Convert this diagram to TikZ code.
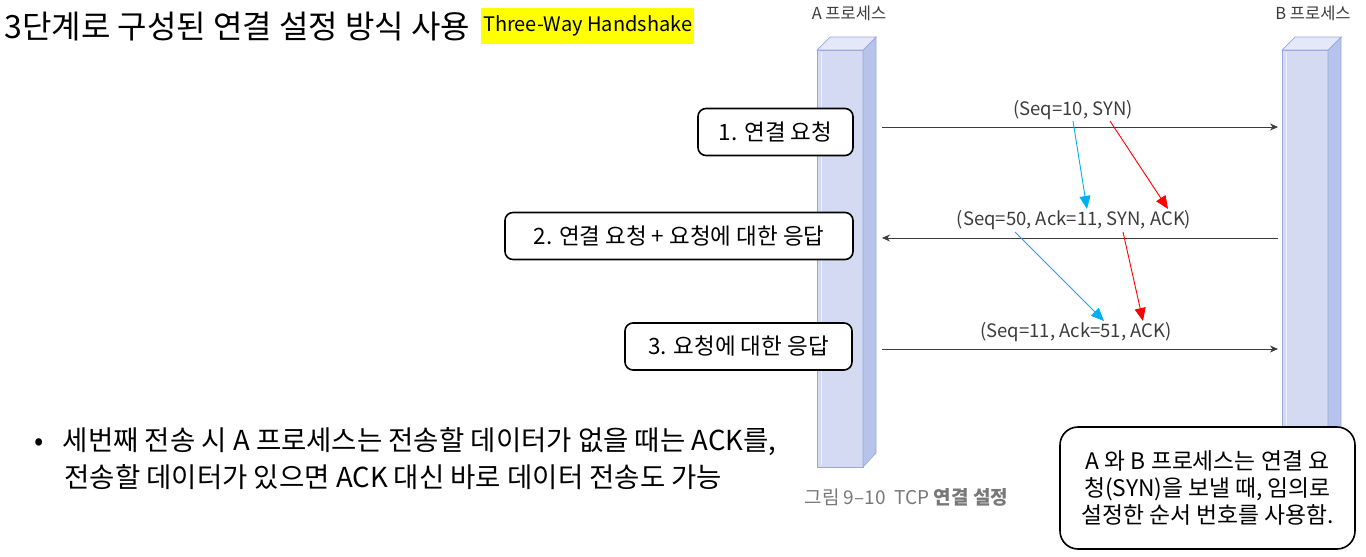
\documentclass[tikz,border=0pt]{standalone}
\usepackage{fontspec}
\setmainfont{Noto Sans CJK KR}
\usetikzlibrary{positioning,arrows.meta}
\definecolor{barfront}{RGB}{212,218,241}
\definecolor{barside}{RGB}{182,196,236}
\definecolor{bartop}{RGB}{228,232,248}
\definecolor{baredge}{RGB}{150,168,222}
\definecolor{skyarrow}{RGB}{0,176,240}
\definecolor{msggray}{RGB}{60,60,60}
\definecolor{capgray}{RGB}{120,120,120}
\definecolor{markyellow}{RGB}{255,255,0}

\begin{document}
\begin{tikzpicture}[x=1pt, y=-1pt,
  stepbox/.style={draw=black, line width=1.6pt, rounded corners=8pt,
    fill=white, minimum height=47pt, inner sep=0pt,
    font=\fontsize{22.5}{26}\selectfont},
  msg/.style={-{Stealth[length=8pt, width=7pt]}, msggray, line width=0.8pt},
  msglabel/.style={font=\fontsize{18.5}{20}\selectfont, text=msggray},
  proclabel/.style={font=\fontsize{16.5}{18}\selectfont, text=msggray},
  cyanarr/.style={-{Triangle[length=13pt, width=11pt]}, skyarrow, line width=0.9pt},
  redarr/.style={-{Triangle[length=13pt, width=11pt]}, red, line width=0.9pt},
]
  \useasboundingbox (0,0) rectangle (1366,557);

  % === TITLE ===
  \node[anchor=west, font=\fontsize{32}{36}\selectfont] (title) at (1,27)
    {3단계로 구성된 연결 설정 방식 사용};
  \node[anchor=west, fill=markyellow, minimum height=36pt, inner xsep=2pt,
    font=\fontsize{20}{22}\selectfont] (hs) at (481,26) {Three-Way Handshake};

  % === PROCESS BARS ===
  \foreach \bx in {817, 1282} {
    \filldraw[fill=barfront, draw=baredge, line width=0.7pt]
      (\bx,50) rectangle (\bx+46,467);
    \filldraw[fill=barside, draw=baredge, line width=0.7pt]
      (\bx+46,50) -- (\bx+59,37) -- (\bx+59,453) -- (\bx+46,467) -- cycle;
    \filldraw[fill=bartop, draw=baredge, line width=0.7pt]
      (\bx,50) -- (\bx+13,37) -- (\bx+59,37) -- (\bx+46,50) -- cycle;
    \draw[white, line width=1pt, opacity=0.6] (\bx+4,52) -- (\bx+4,465);
  }
  \node[proclabel] (procA) at (849,13) {A 프로세스};
  \node[proclabel] (procB) at (1313,13) {B 프로세스};

  % === MESSAGES ===
  \coordinate (a1) at (882,127);  \coordinate (b1) at (1278,127);
  \coordinate (a2) at (882,238);  \coordinate (b2) at (1278,238);
  \coordinate (a3) at (882,349);  \coordinate (b3) at (1278,349);
  \draw[msg] (a1) -- (b1);
  \draw[msg] (b2) -- (a2);
  \draw[msg] (a3) -- (b3);
  \node[msglabel] (lab1) at (1073,110) {(Seq=10, SYN)};
  \node[msglabel] (lab2) at (1074,220) {(Seq=50, Ack=11, SYN, ACK)};
  \node[msglabel] (lab3) at (1076,332) {(Seq=11, Ack=51, ACK)};

  % Numbers carried over (blue: seq -> ack, red: ack -> seq)
  \coordinate (c1s) at (1073,121);  \coordinate (c1e) at (1087,209);
  \coordinate (r1s) at (1110,121);  \coordinate (r1e) at (1168,209);
  \coordinate (c2s) at (1015,232);  \coordinate (c2e) at (1104,321);
  \coordinate (r2s) at (1123,232);  \coordinate (r2e) at (1143,321);
  \draw[cyanarr] (c1s) -- (c1e);
  \draw[redarr] (r1s) -- (r1e);
  \draw[cyanarr] (c2s) -- (c2e);
  \draw[redarr] (r2s) -- (r2e);

  % === STEP BOXES ===
  \node[stepbox, minimum width=155pt] (step1) at (775.5,132) {1. 연결 요청};
  \node[stepbox, minimum width=348pt] (step2) at (679,236) {2. 연결 요청 + 요청에 대한 응답};
  \node[stepbox, minimum width=227pt] (step3) at (738.5,346.5) {3. 요청에 대한 응답};

  % === NOTES ===
  \node[anchor=west, font=\fontsize{27.5}{37}\selectfont, align=left] (bullet) at (31,459)
    {•\hspace{19pt}세번째 전송 시 A 프로세스는 전송할 데이터가 없을 때는 ACK를,\\
     \hspace{30pt}전송할 데이터가 있으면 ACK 대신 바로 데이터 전송도 가능};
  \node[anchor=west, font=\fontsize{19}{20}\selectfont, text=capgray] (caption) at (801,497)
    {그림 9--10\hspace{9pt}TCP \textbf{연결 설정}};
  \node[draw=black, line width=1.6pt, rounded corners=18pt, fill=white,
    minimum width=295pt, minimum height=122pt, align=center,
    font=\fontsize{22.8}{27}\selectfont] (remark) at (1207.5,488)
    {A 와 B 프로세스는 연결 요\\청(SYN)을 보낼 때, 임의로\\설정한 순서 번호를 사용함.};
\end{tikzpicture}
\end{document}
